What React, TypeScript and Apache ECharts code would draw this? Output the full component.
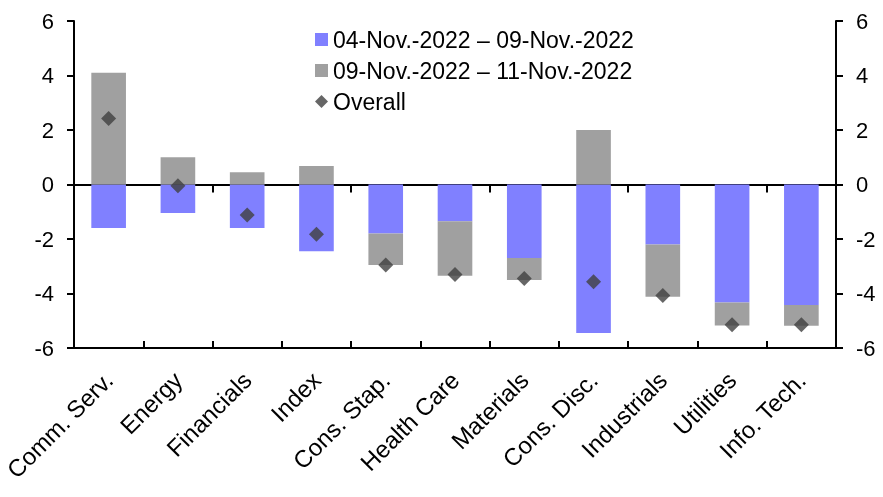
import React, { useEffect, useRef } from "react";
import * as echarts from "echarts";

const categories = ["Comm. Serv.", "Energy", "Financials", "Index", "Cons. Stap.", "Health Care", "Materials", "Cons. Disc.", "Industrials", "Utilities", "Info. Tech."];
const firstPeriod = [-1.6, -1.05, -1.6, -2.45, -1.8, -1.35, -2.7, -5.45, -2.2, -4.33, -4.42];
const secondPeriod = [4.1, 1.0, 0.45, 0.68, -1.15, -2.0, -0.8, 2.0, -1.92, -0.84, -0.76];
const overall = [2.42, -0.05, -1.12, -1.83, -2.95, -3.3, -3.45, -3.57, -4.07, -5.15, -5.15];
const seriesNames = ["04-Nov.-2022 – 09-Nov.-2022", "09-Nov.-2022 – 11-Nov.-2022", "Overall"];

export default function App() {
  const ref = useRef<HTMLDivElement>(null);
  useEffect(() => {
    const chart = echarts.init(ref.current!, null, { renderer: "svg" });
    const font = "Liberation Sans, Arial, sans-serif";
    const yAxisCommon = {
      type: "value",
      min: -6,
      max: 6,
      interval: 2,
      splitLine: { show: false },
      axisLine: { show: true, lineStyle: { color: "#000", width: 2 } },
      axisTick: { show: true, length: 7, lineStyle: { color: "#000", width: 2 } },
      axisLabel: { color: "#000", fontSize: 22, fontFamily: font, margin: 20 },
    };
    chart.setOption({
      animation: false,
      grid: { left: 74, right: 47, top: 21, bottom: 149 },
      legend: {
        orient: "vertical",
        left: 310,
        top: 23,
        itemWidth: 13,
        itemHeight: 13,
        itemGap: 8,
        textStyle: { color: "#000", fontSize: 23, fontFamily: font },
        data: [
          { name: seriesNames[0], icon: "rect" },
          { name: seriesNames[1], icon: "rect" },
          { name: seriesNames[2], icon: "diamond" },
        ],
      },
      xAxis: [
        {
          type: "category",
          data: categories,
          position: "bottom",
          axisLine: { onZero: true, lineStyle: { color: "#000", width: 2 } },
          axisTick: { show: true, length: 8, lineStyle: { color: "#000", width: 2 } },
          axisLabel: { show: false },
        },
        {
          type: "category",
          data: categories,
          position: "bottom",
          axisLine: { onZero: false, lineStyle: { color: "#000", width: 2 } },
          axisTick: { show: true, inside: true, length: 7, lineStyle: { color: "#000", width: 2 } },
          axisLabel: { rotate: 45, color: "#000", fontSize: 24, fontFamily: font, margin: 28, interval: 0 },
        },
      ],
      yAxis: [
        { ...yAxisCommon, position: "left" },
        { ...yAxisCommon, position: "right" },
      ],
      series: [
        {
          name: seriesNames[0],
          type: "bar",
          stack: "s",
          data: firstPeriod,
          barWidth: "50%",
          itemStyle: { color: "#8080FF" },
        },
        {
          name: seriesNames[1],
          type: "bar",
          stack: "s",
          data: secondPeriod,
          barWidth: "50%",
          itemStyle: { color: "#A0A0A0" },
        },
        {
          name: seriesNames[2],
          type: "scatter",
          data: overall,
          symbol: "diamond",
          symbolSize: 15,
          itemStyle: { color: "#404040" },
          z: 5,
        },
      ],
    });
    return () => chart.dispose();
  }, []);
  return <div ref={ref} style={{ position: "fixed", left: 0, top: 0, width: 883, height: 497 }} />;
}
